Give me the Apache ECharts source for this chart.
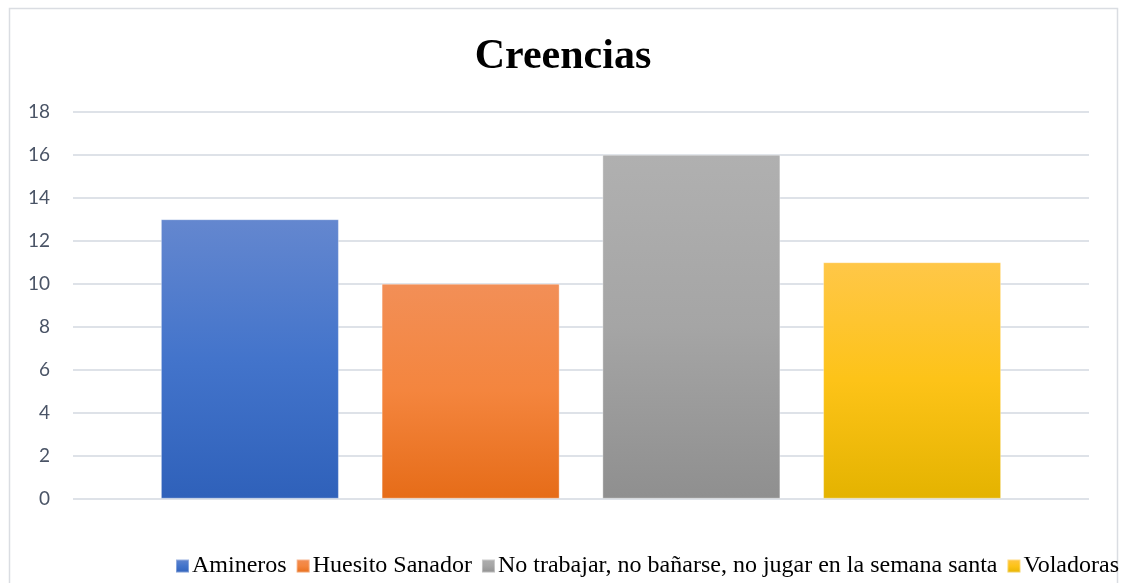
<!DOCTYPE html>
<html>
<head>
<meta charset="utf-8">
<script src="https://cdn.jsdelivr.net/npm/echarts@6/dist/echarts.min.js"></script>
<style>
  html, body { margin: 0; padding: 0; background: #fff; }
  #chart { width: 1126px; height: 583px; }
</style>
</head>
<body>
<div id="chart"></div>
<script>
// datos de la gráfica
const categorias = ['Amineros', 'Huesito Sanador', 'No trabajar, no bañarse, no jugar en la semana santa', 'Voladoras'];
const valores = [13, 10, 16, 11];
const ticksY = [0, 2, 4, 6, 8, 10, 12, 14, 16, 18];
// colores degradados: arriba, medio, abajo
const colores = [
  ['#6487CF', '#4374CB', '#2F61BA'],
  ['#F28F57', '#F4853E', '#E66C18'],
  ['#B0B0B0', '#A5A5A5', '#8F8F8F'],
  ['#FFC748', '#FDC318', '#E4B300']
];

const grad = (c) => new echarts.graphic.LinearGradient(0, 0, 0, 1, [
  { offset: 0, color: c[0] },
  { offset: 0.5, color: c[1] },
  { offset: 1, color: c[2] }
]);

const chart = echarts.init(document.getElementById('chart'));
const option = {
  animation: false,
  title: {
    text: 'Creencias',
    left: 'center',
    top: 31,
    textStyle: { fontFamily: 'Liberation Serif', fontWeight: 'bold', fontSize: 42, color: '#000' }
  },
  graphic: [{
    type: 'rect',
    shape: { x: 9.5, y: 8.5, width: 1108, height: 620 },
    style: { fill: 'none', stroke: '#DADDE2', lineWidth: 1.5 },
    silent: true
  }],
  legend: {
    bottom: 0,
    left: 170,
    itemWidth: 13,
    itemHeight: 13,
    itemGap: 9,
    icon: 'rect',
    textStyle: { fontFamily: 'Liberation Serif', fontSize: 24, color: '#000', padding: [0, 0, 0, -2] },
    data: categorias
  },
  grid: { left: 73, right: 37, top: 111.7, bottom: 84.3 },
  xAxis: {
    type: 'category',
    data: [''],
    axisLine: { show: false },
    axisTick: { show: false },
    axisLabel: { show: false }
  },
  yAxis: {
    type: 'value',
    min: ticksY[0],
    max: ticksY[ticksY.length - 1],
    interval: 2,
    axisLine: { show: false },
    axisTick: { show: false },
    axisLabel: { fontFamily: 'Lato', fontSize: 19, color: '#4A5466', margin: 23 },
    splitLine: { lineStyle: { color: '#DEE2E8', width: 2 } }
  },
  series: categorias.map((name, i) => ({
    name: name,
    type: 'bar',
    data: [valores[i]],
    barGap: '24%',
    barCategoryGap: '17.3%',
    itemStyle: { color: grad(colores[i]), borderColor: 'rgba(255,255,255,0.35)', borderWidth: 1 }
  }))
};
chart.setOption(option);
</script>
</body>
</html>
